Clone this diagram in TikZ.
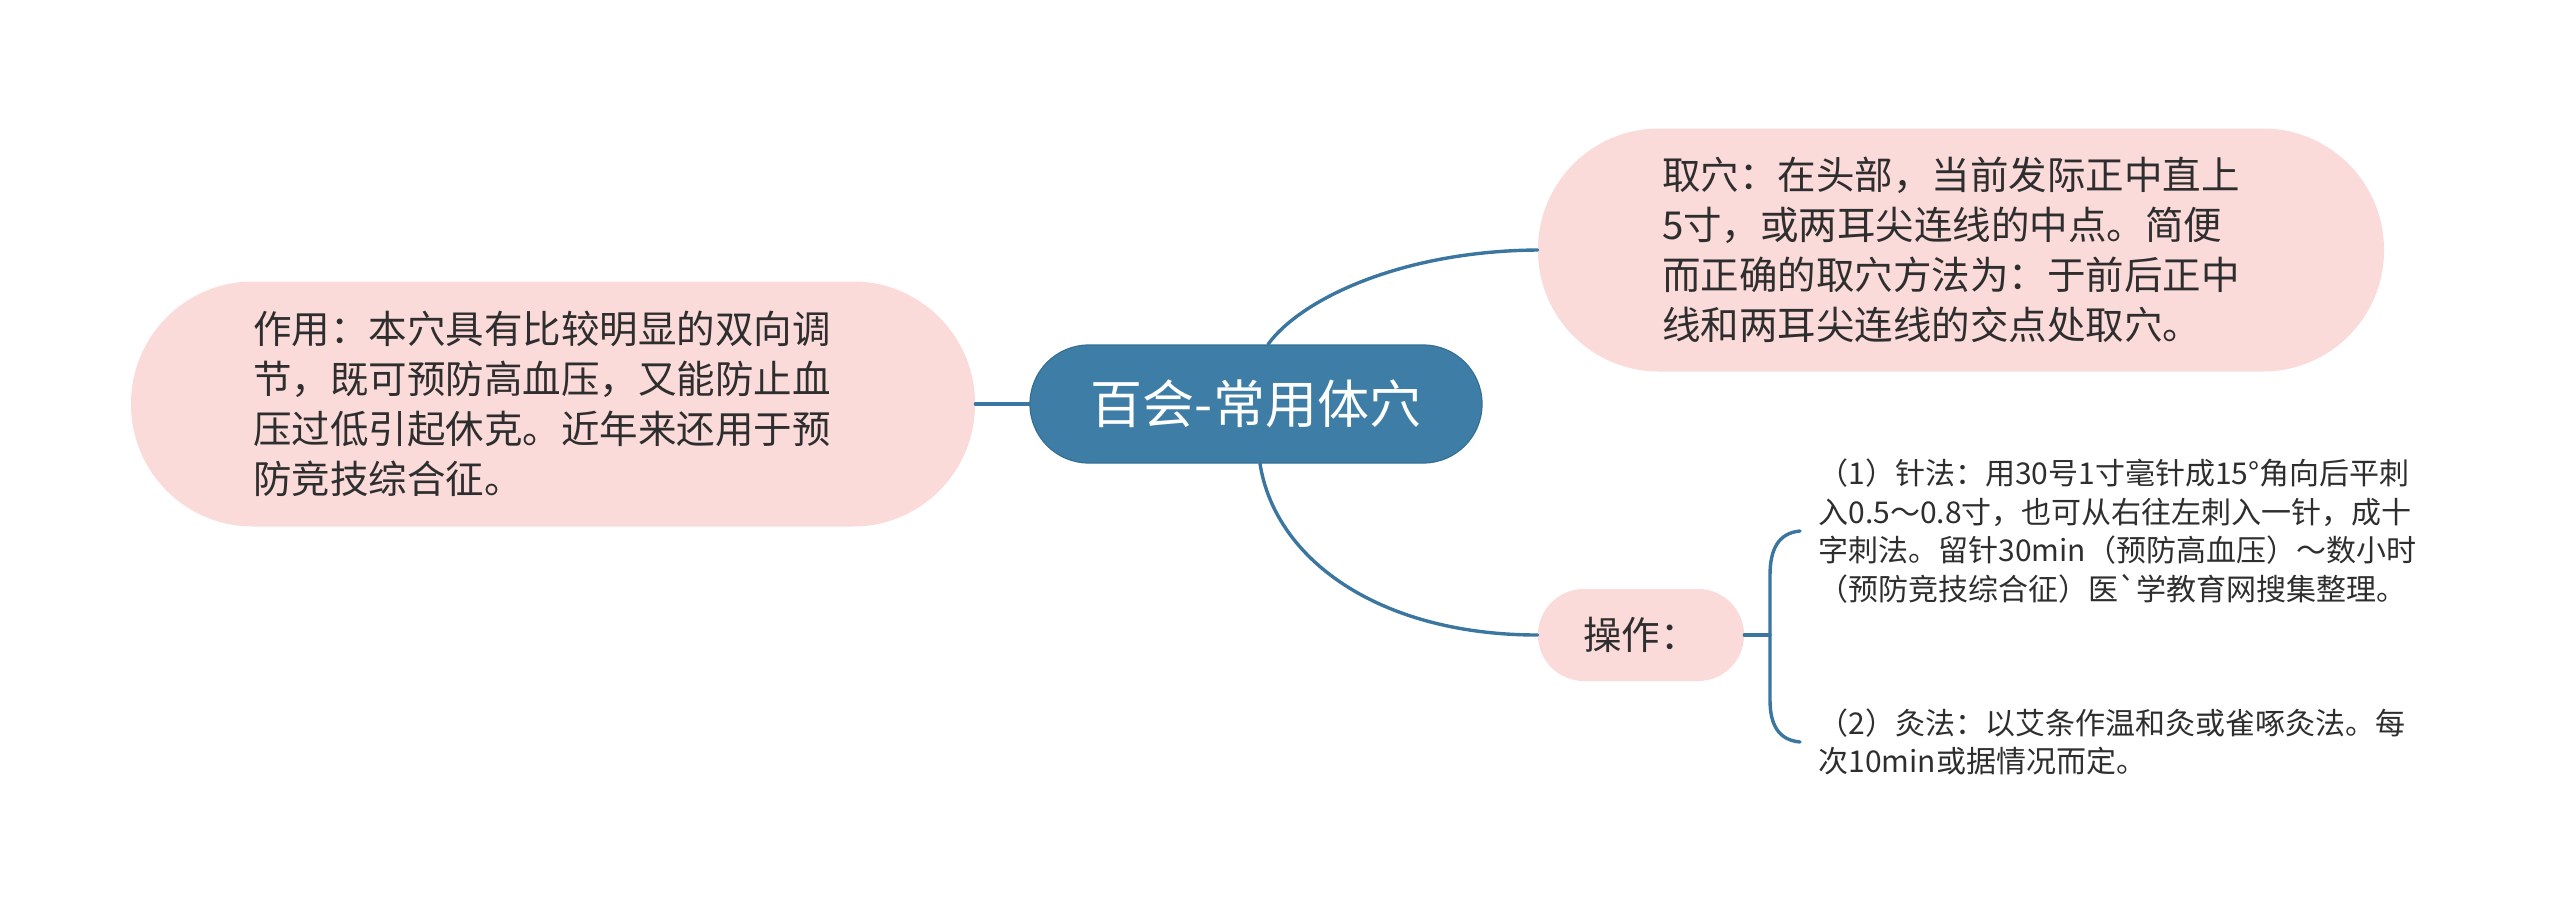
\documentclass[tikz,border=0pt]{standalone}
\usepackage{fontspec}
\setmainfont{Noto Sans CJK SC}
\newfontfamily\plainfont{Noto Sans CJK SC}[Ligatures=TeXOff]
\usetikzlibrary{calc}
\definecolor{pinkfill}{HTML}{FBDADA}
\definecolor{mainblue}{HTML}{3E7EA6}
\definecolor{mainedge}{HTML}{356F95}
\definecolor{linkblue}{HTML}{3B76A0}
\definecolor{txt}{HTML}{2E2E2E}
\begin{document}
\begin{tikzpicture}[x=0.5pt,y=-0.5pt,
  pinkbox/.style={fill=pinkfill, text=txt, inner sep=0pt, align=left,
    font=\fontsize{19.25}{25}\selectfont},
  rootbox/.style={fill=mainblue, draw=mainedge, line width=0.6pt, text=white, inner sep=0pt,
    minimum width=226pt, minimum height=59pt, rounded corners=29.4pt,
    font=\fontsize{26}{30}\selectfont},
  optext/.style={text=txt, inner sep=0pt, align=left, anchor=west,
    font=\fontsize{15}{19.25}\selectfont},
  conn/.style={draw=linkblue, line width=1.7pt, line cap=round}]
\useasboundingbox (0,0) rectangle (2560,923);
% nodes
\node[rootbox] (root) at (1256,404) {百会-常用体穴};
\node[pinkbox, text width=300pt, minimum width=422pt, minimum height=122.5pt, rounded corners=61pt] (left) at (553,404)
  {作用：本穴具有比较明显的双向调\\节，既可预防高血压，又能防止血\\压过低引起休克。近年来还用于预\\防竞技综合征。};
\node[pinkbox, text width=299pt, minimum width=423pt, minimum height=121.5pt, rounded corners=60.5pt] (tr) at (1961,250)
  {取穴：在头部，当前发际正中直上\\5寸，或两耳尖连线的中点。简便\\而正确的取穴方法为：于前后正中\\线和两耳尖连线的交点处取穴。};
\node[pinkbox, minimum width=103pt, minimum height=46pt, rounded corners=22.9pt, align=center] (op) at (1641,635) {操作：};
\node[optext] (op1) at (1818,531)
  {（1）针法：用30号1寸毫针成15°角向后平刺\\入0.5～0.8寸，也可从右往左刺入一针，成十\\字刺法。留针30min（预防高血压）～数小时\\（预防竞技综合征）医{\plainfont\symbol{96}}学教育网搜集整理。};
\node[optext] (op2) at (1818,742)
  {（2）灸法：以艾条作温和灸或雀啄灸法。每\\次10min或据情况而定。};
% connectors
\draw[conn] (left.east) -- (root.west);
\draw[conn] ($(root.north)+(12,0)$) .. controls (1300,300) and (1400,251) .. (tr.west);
\draw[conn] ($(root.south)+(4,0)$) .. controls (1275,560) and (1380,635) .. (op.west);
\coordinate (bm) at (1770,635);
\coordinate (b1) at ($(op1.west)+(-18,0)$);
\coordinate (b2) at ($(op2.west)+(-18,0)$);
\draw[conn] (op.east) -- (bm);
\draw[conn] (b1) .. controls (1778,533) and (1770,550) .. (1770,575) -- (1770,700)
  .. controls (1770,724) and (1778,740) .. (b2);
\end{tikzpicture}
\end{document}
